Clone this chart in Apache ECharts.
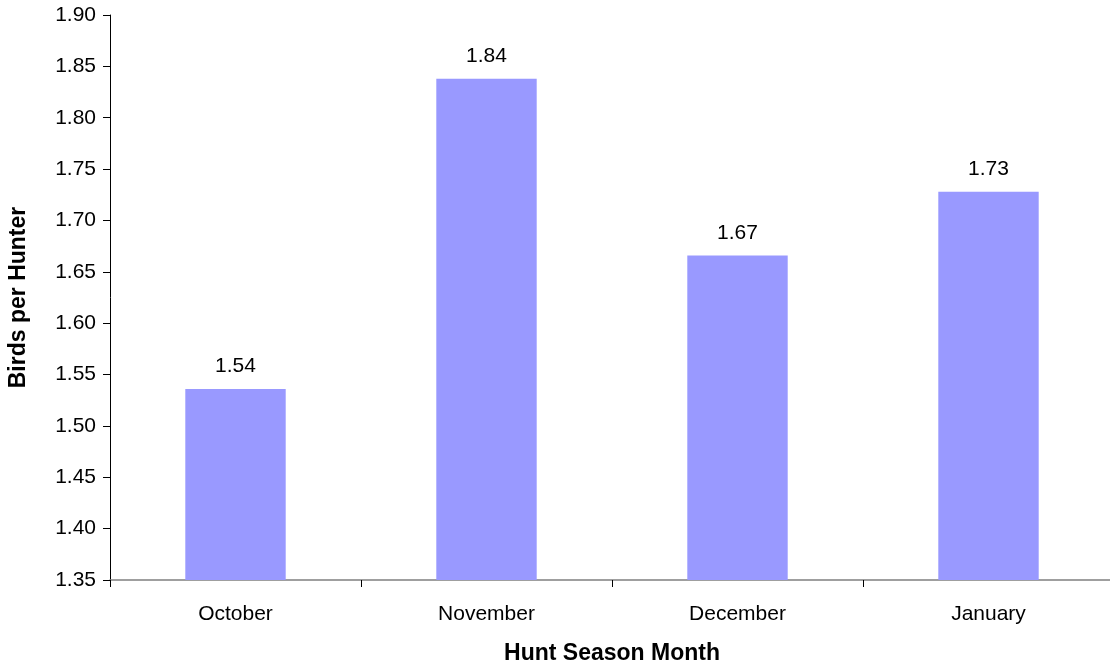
<!DOCTYPE html>
<html>
<head>
<meta charset="utf-8">
<script src="https://cdn.jsdelivr.net/npm/echarts@6/dist/echarts.min.js"></script>
<style>
  html, body { margin: 0; padding: 0; background: #fff; }
  #chart { width: 1110px; height: 667px; }
</style>
</head>
<body>
<div id="chart"></div>
<script>
const months = ['October', 'November', 'December', 'January']
const birdsPerHunter = [1.536, 1.838, 1.666, 1.728]
const yMin = 1.35
const yMax = 1.90
const yStep = 0.05

const font = 'Liberation Sans, Arial, sans-serif'
const fs = 21
const titleFs = 23

const chart = echarts.init(document.getElementById('chart'))

chart.setOption({
  animation: false,
  grid: {
    left: 110,
    right: -4,
    top: 15,
    bottom: 87,
    containLabel: false,
    outerBoundsMode: 'none',
  },
  xAxis: {
    type: 'category',
    data: months,
    name: 'Hunt Season Month',
    nameLocation: 'middle',
    nameGap: 62,
    nameTextStyle: { color: '#000', fontSize: titleFs, fontWeight: 'bold', fontFamily: font },
    axisLine: { lineStyle: { color: '#808080', width: 1.5 } },
    axisTick: { show: true, length: 7, lineStyle: { color: '#000' } },
    axisLabel: { color: '#000', fontSize: fs, fontFamily: font, margin: 24 },
  },
  yAxis: {
    type: 'value',
    min: yMin,
    max: yMax,
    interval: yStep,
    name: 'Birds per Hunter',
    nameLocation: 'middle',
    nameGap: 80,
    nameTextStyle: { color: '#000', fontSize: titleFs, fontWeight: 'bold', fontFamily: font },
    axisLine: { show: true, lineStyle: { color: '#000' } },
    axisTick: { show: true, length: 7, lineStyle: { color: '#000' } },
    splitLine: { show: false },
    axisLabel: {
      color: '#000',
      fontSize: fs,
      fontFamily: font,
      margin: 14,
      formatter: (v) => v.toFixed(2),
    },
  },
  series: [
    {
      type: 'bar',
      data: birdsPerHunter,
      barWidth: '40%',
      itemStyle: { color: '#9999FF' },
      label: {
        show: true,
        position: 'top',
        distance: 12,
        color: '#000',
        fontSize: fs,
        fontFamily: font,
        formatter: (p) => p.value.toFixed(2),
      },
    },
  ],
})
</script>
</body>
</html>
